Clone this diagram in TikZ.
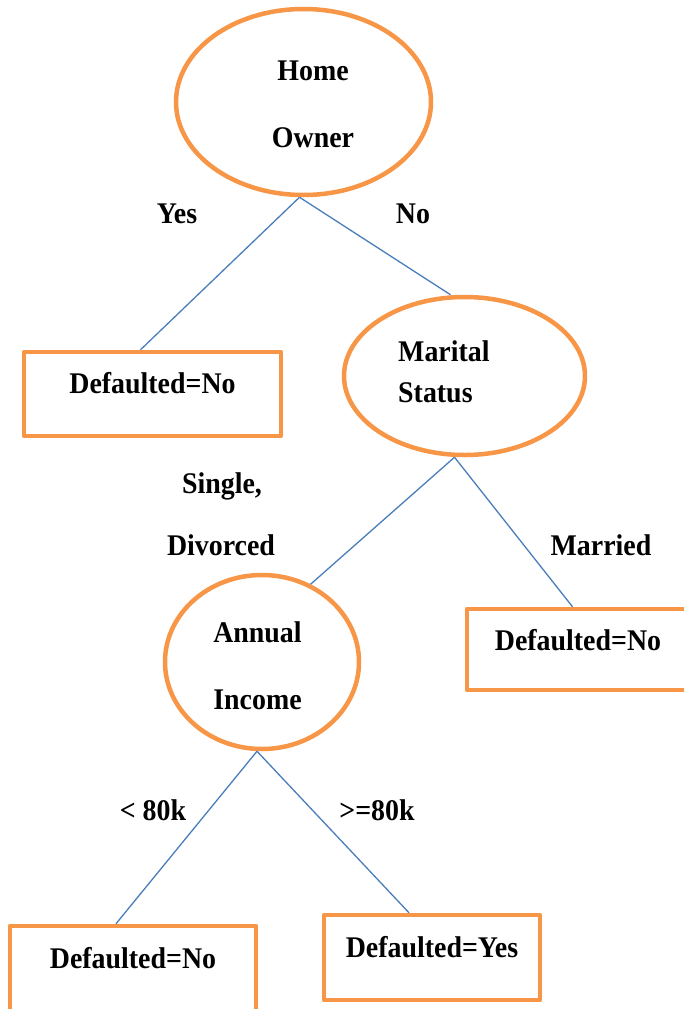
\documentclass[tikz,border=0pt]{standalone}
\usepackage{fontspec}
\setmainfont[FakeStretch=0.93]{Liberation Serif}
\usetikzlibrary{shapes.geometric}
\definecolor{nodeorange}{HTML}{F79646}
\definecolor{edgeblue}{HTML}{4A7EBB}
\begin{document}
\begin{tikzpicture}[x=1pt,y=-1pt,
  decision/.style={ellipse, draw=nodeorange, line width=4.5pt, inner sep=0pt},
  leaf/.style={rectangle, draw=nodeorange, line width=4.5pt, line join=round, inner sep=0pt},
  txt/.style={font=\fontsize{30}{36}\selectfont\bfseries, inner sep=0pt, anchor=base},
  edge/.style={draw=edgeblue, line width=1.3pt}]
\useasboundingbox (0,0) rectangle (684,1009);
\clip (0,0) rectangle (684,1009);

% decision nodes
\node[decision, minimum width=255pt, minimum height=186pt] (home) at (303.5,102) {};
\node[decision, minimum width=241pt, minimum height=158pt] (marital) at (464.5,376) {};
\node[decision, minimum width=194pt, minimum height=174pt] (annual) at (262,662) {};

% leaf boxes
\node[leaf, minimum width=257pt, minimum height=84pt] (leaf1) at (152.5,394) {};
\node[leaf, minimum width=223pt, minimum height=81pt] (leaf2) at (578.5,649.5) {};
\node[leaf, minimum width=246pt, minimum height=86pt] (leaf3) at (133,969) {};
\node[leaf, minimum width=216pt, minimum height=85pt] (leaf4) at (432,957.5) {};

% texts inside the nodes
\node[txt] (homeA) at (313,80) {Home};
\node[txt] (homeB) at (313,147) {Owner};
\node[txt, anchor=base west] (maritalA) at (398,361) {Marital};
\node[txt, anchor=base west] (maritalB) at (398,402) {Status};
\node[txt] (annualA) at (257.5,642) {Annual};
\node[txt] (annualB) at (257.5,709) {Income};
\node[txt] (leaf1T) at (152.5,393) {Defaulted=No};
\node[txt] (leaf2T) at (578,650) {Defaulted=No};
\node[txt] (leaf3T) at (133,968) {Defaulted=No};
\node[txt] (leaf4T) at (432,957) {Defaulted=Yes};

% branch labels
\node[txt] (yesL) at (177,223) {Yes};
\node[txt] (noL) at (413,223) {No};
\node[txt] (singleL) at (222,493) {Single,};
\node[txt] (divorcedL) at (221,555) {Divorced};
\node[txt] (marriedL) at (601,555) {Married};
\node[txt] (lowL) at (153,820) {< 80k};
\node[txt] (highL) at (377,820) {>=80k};

% branches
\draw[edge] ([xshift=-4pt]home.south) -- ([xshift=-12pt]leaf1.north);
\draw[edge] ([xshift=-4pt]home.south) -- ([xshift=-14pt]marital.north);
\draw[edge] ([xshift=-10pt]marital.south) -- (annual.58);
\draw[edge] ([xshift=-10pt]marital.south) -- ([xshift=-6pt]leaf2.north);
\draw[edge] ([xshift=-5pt]annual.south) -- ([xshift=-17pt]leaf3.north);
\draw[edge] ([xshift=-5pt]annual.south) -- ([xshift=-23pt]leaf4.north);
\end{tikzpicture}
\end{document}
